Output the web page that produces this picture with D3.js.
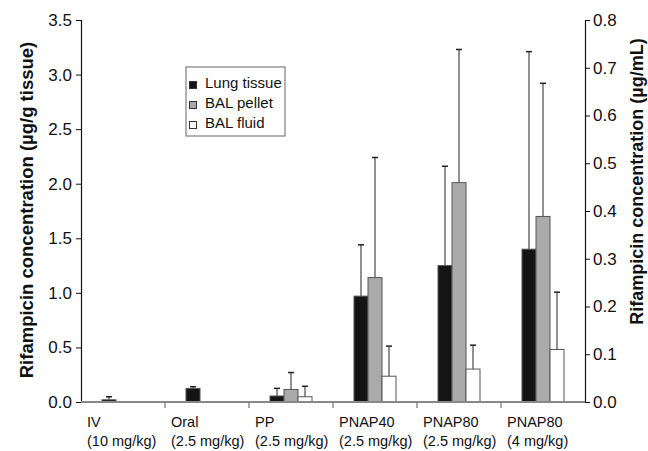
<!DOCTYPE html>
<html>
<head>
<meta charset="utf-8">
<script src="https://cdn.jsdelivr.net/npm/d3@7"></script>
<style>
  body { margin: 0; background: #fff; }
  svg text { font-family: "Liberation Sans", Arial, sans-serif; fill: #111; }
</style>
</head>
<body>
<svg id="chart" width="648" height="451"></svg>
<script>
// data
let groupNames = ["IV", "Oral", "PP", "PNAP40", "PNAP80", "PNAP80"];
let groupDoses = ["(10 mg/kg)", "(2.5 mg/kg)", "(2.5 mg/kg)", "(2.5 mg/kg)", "(2.5 mg/kg)", "(4 mg/kg)"];
let seriesNames = ["Lung tissue", "BAL pellet", "BAL fluid"];
// left axis (µg/g tissue)
let lungTissue = [0.02, 0.125, 0.055, 0.97, 1.25, 1.40];
let lungTissueErr = [0.028, 0.015, 0.07, 0.47, 0.91, 1.81];
let balPellet = [0.004, 0.004, 0.115, 1.14, 2.01, 1.70];
let balPelletErr = [0, 0, 0.155, 1.10, 1.22, 1.22];
// right axis (µg/mL)
let balFluid = [0.001, 0.001, 0.011, 0.054, 0.069, 0.110];
let balFluidErr = [0, 0, 0.022, 0.063, 0.05, 0.12];
let leftTicks = [0, 0.5, 1.0, 1.5, 2.0, 2.5, 3.0, 3.5];
let rightTicks = [0, 0.1, 0.2, 0.3, 0.4, 0.5, 0.6, 0.7, 0.8];

let plot = {left: 81, right: 585, top: 20, bottom: 402};
let fills = {"Lung tissue": "#141414", "BAL pellet": "#aaaaaa", "BAL fluid": "#ffffff"};

let svg = d3.select('#chart');
let idx = d3.range(groupNames.length);

let xScale = d3.scaleBand().domain(idx).range([plot.left, plot.right]);
let xInner = d3.scaleBand().domain(seriesNames).range([21, 63]);
let yLeft = d3.scaleLinear().domain([0, 3.5]).range([plot.bottom, plot.top]);
let yRight = d3.scaleLinear().domain([0, 0.8]).range([plot.bottom, plot.top]);

// build rows for bars
let rows = [];
idx.forEach(i => {
    rows.push({g: i, s: "Lung tissue", v: lungTissue[i], e: lungTissueErr[i], y: yLeft});
    rows.push({g: i, s: "BAL pellet", v: balPellet[i], e: balPelletErr[i], y: yLeft});
    rows.push({g: i, s: "BAL fluid", v: balFluid[i], e: balFluidErr[i], y: yRight});
});

// error bars (behind the bars)
let errs = svg.append('g').attr('class', 'errors');
rows.filter(d => d.e > 0).forEach(d => {
    let cx = xScale(d.g) + xInner(d.s) + xInner.bandwidth() / 2;
    errs.append('line')
        .attr('x1', cx).attr('x2', cx)
        .attr('y1', d.y(d.v)).attr('y2', d.y(d.v + d.e))
        .attr('stroke', '#555').attr('stroke-width', 1.3);
    errs.append('line')
        .attr('x1', cx - 3).attr('x2', cx + 3)
        .attr('y1', d.y(d.v + d.e)).attr('y2', d.y(d.v + d.e))
        .attr('stroke', '#222').attr('stroke-width', 1.5);
});

// bars
svg.append('g').attr('class', 'bars')
    .selectAll('rect')
    .data(rows)
    .enter()
    .append('rect')
    .attr('x', d => xScale(d.g) + xInner(d.s))
    .attr('width', xInner.bandwidth())
    .attr('y', d => d.y(d.v))
    .attr('height', d => plot.bottom - d.y(d.v))
    .attr('fill', d => fills[d.s])
    .attr('stroke', '#555')
    .attr('stroke-width', 1);

// left axis
let leftAxis = svg.append('g')
    .attr('transform', 'translate(' + plot.left + ',0)')
    .call(d3.axisLeft(yLeft).tickValues(leftTicks).tickSize(5).tickPadding(4).tickFormat(d3.format('.1f')));
leftAxis.selectAll('text').style('font-size', '17px').attr('fill', '#111');
leftAxis.select('.domain').attr('stroke', '#111').attr('stroke-width', 1.2);
leftAxis.selectAll('.tick line').attr('stroke', '#111');

// right axis
let rightAxis = svg.append('g')
    .attr('transform', 'translate(' + plot.right + ',0)')
    .call(d3.axisRight(yRight).tickValues(rightTicks).tickSize(5).tickPadding(3).tickFormat(d3.format('.1f')));
rightAxis.selectAll('text').style('font-size', '17px').attr('fill', '#111');
rightAxis.select('.domain').attr('stroke', '#111').attr('stroke-width', 1.2);
rightAxis.selectAll('.tick line').attr('stroke', '#111');

// baseline + category ticks
svg.append('line')
    .attr('x1', plot.left).attr('x2', plot.right)
    .attr('y1', plot.bottom).attr('y2', plot.bottom)
    .attr('stroke', '#888').attr('stroke-width', 2);
svg.append('g').selectAll('line')
    .data(idx.slice(1))
    .enter()
    .append('line')
    .attr('x1', d => xScale(d)).attr('x2', d => xScale(d))
    .attr('y1', plot.bottom).attr('y2', plot.bottom + 6)
    .attr('stroke', '#777').attr('stroke-width', 1.2);

// category labels
let cat = svg.append('g').selectAll('text')
    .data(idx)
    .enter()
    .append('text')
    .attr('x', d => xScale(d) + 6)
    .attr('y', 427)
    .style('font-size', '14.5px');
cat.append('tspan').text(d => groupNames[d]);
cat.append('tspan').attr('x', d => xScale(d) + 6).attr('dy', 19).text(d => groupDoses[d]);

// axis titles
svg.append('text')
    .attr('transform', 'translate(32.5,210) rotate(-90)')
    .attr('text-anchor', 'middle')
    .style('font-size', '18.5px').style('font-weight', 'bold')
    .text('Rifampicin concentration (µg/g tissue)');
svg.append('text')
    .attr('transform', 'translate(643,181.5) rotate(-90)')
    .attr('text-anchor', 'middle')
    .style('font-size', '18px').style('font-weight', 'bold')
    .text('Rifampicin concentration (µg/mL)');

// legend
let legend = svg.append('g').attr('transform', 'translate(186,67)');
legend.append('rect')
    .attr('width', 99).attr('height', 69)
    .attr('fill', '#fff').attr('stroke', '#666').attr('stroke-width', 1);
let items = legend.selectAll('g.item')
    .data(seriesNames)
    .enter()
    .append('g')
    .attr('class', 'item')
    .attr('transform', (d, i) => 'translate(0,' + (i * 20) + ')');
items.append('rect')
    .attr('x', 3.5).attr('y', 14.5).attr('width', 7).attr('height', 7)
    .attr('fill', d => fills[d]).attr('stroke', '#333').attr('stroke-width', 1);
items.append('text')
    .attr('x', 19).attr('y', 21)
    .style('font-size', '15px')
    .text(d => d);
</script>
</body>
</html>
